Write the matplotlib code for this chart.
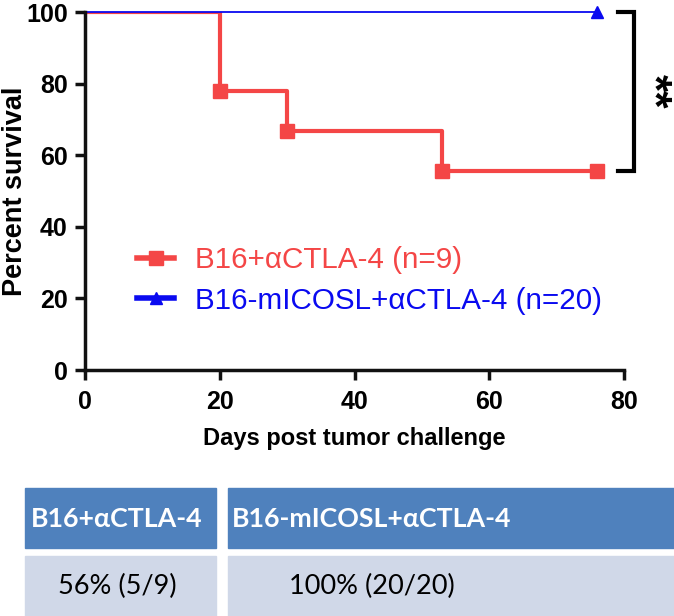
import matplotlib
matplotlib.use("Agg")
import matplotlib.pyplot as plt
from matplotlib.patches import Rectangle

plt.rcParams['font.family'] = ['Liberation Sans', 'DejaVu Sans']

# Kaplan-Meier data
days_ctla = [0, 20, 30, 53, 76]
surv_ctla = [100, 77.8, 66.7, 55.6, 55.6]
days_icosl = [0, 76]
surv_icosl = [100, 100]

label_ctla = 'B16+\u03b1CTLA-4 (n=9)'
label_icosl = 'B16-mICOSL+\u03b1CTLA-4 (n=20)'

xticks = [0, 20, 40, 60, 80]
yticks = [0, 20, 40, 60, 80, 100]

table_head = ['B16+\u03b1CTLA-4', 'B16-mICOSL+\u03b1CTLA-4']
table_body = ['56% (5/9)', '100% (20/20)']

red = '#F44646'
blue = '#0A0AF0'

fig = plt.figure(figsize=(6.74, 6.16), dpi=100)
ax = fig.add_axes([85 / 674, 1 - 370 / 616, (624 - 85) / 674, (370 - 12) / 616])

ax.step(days_ctla, surv_ctla, where='post', color=red, lw=3)
ax.plot(days_ctla[1:], surv_ctla[1:], 's', color=red, ms=10)
ax.step(days_icosl, surv_icosl, where='post', color=blue, lw=1.3, clip_on=False)
ax.plot(days_icosl[-1:], surv_icosl[-1:], '^', color=blue, ms=9, clip_on=False)

# legend handles with line through marker
h1, = ax.plot([], [], color=red, lw=4, marker='s', ms=10)
h2, = ax.plot([], [], color=blue, lw=4, marker='^', ms=9)
leg = ax.legend([h1, h2], [label_ctla, label_icosl], loc='center left',
                bbox_to_anchor=(0.0965, 0.25), frameon=False, fontsize=21.3,
                borderpad=0, borderaxespad=0, handlelength=1.25,
                handletextpad=0.7, labelspacing=0.42)
for t, c in zip(leg.get_texts(), [red, blue]):
    t.set_color(c)

ax.set_xlim(0, 80)
ax.set_ylim(0, 100)
ax.set_xticks(xticks)
ax.set_yticks(yticks)
ax.spines['top'].set_visible(False)
ax.spines['right'].set_visible(False)
for s in ['left', 'bottom']:
    ax.spines[s].set_linewidth(2.5)
    ax.spines[s].set_color('#111111')
ax.tick_params(width=2.5, length=7.5, labelsize=18, color='#111111', pad=5)
ax.tick_params(axis='x', pad=7)
for lab in ax.get_xticklabels() + ax.get_yticklabels():
    lab.set_fontweight('bold')
ax.set_xlabel('Days post tumor challenge', fontsize=17, fontweight='bold', labelpad=9)
ax.set_ylabel('Percent survival', fontsize=19.5, fontweight='bold')
ax.yaxis.set_label_coords(-0.105, 0.5)

# significance bracket
ax.plot([79.1, 81.5, 81.5, 79.1], [100, 100, 55.6, 55.6], color='black', lw=3,
        clip_on=False, solid_joinstyle='miter')
ax.text(84.2, 78, '**', rotation=-90, fontsize=32, fontweight='bold',
        ha='center', va='center')

# summary table
W, H = 674, 616
cells = [(25, 216), (228, 680)]
centers = [117, 372]
for (x0, x1), cx, head, body in zip(cells, centers, table_head, table_body):
    fig.patches.append(Rectangle((x0 / W, 1 - 548 / H), (x1 - x0) / W, 60 / H,
                                 transform=fig.transFigure, color='#4F81BD'))
    fig.patches.append(Rectangle((x0 / W, 1 - 616 / H), (x1 - x0) / W, 60 / H,
                                 transform=fig.transFigure, color='#D0D8E8'))
    fig.text(cx / W, 1 - 519 / H, head, ha='center', va='center', color='white',
             fontsize=19.3, fontweight='bold', family=['Lato', 'DejaVu Sans'])
    fig.text(cx / W, 1 - 586 / H, body, ha='center', va='center', color='black',
             fontsize=19.5, family=['Lato', 'DejaVu Sans'])

fig.savefig('out.png', dpi=100)
